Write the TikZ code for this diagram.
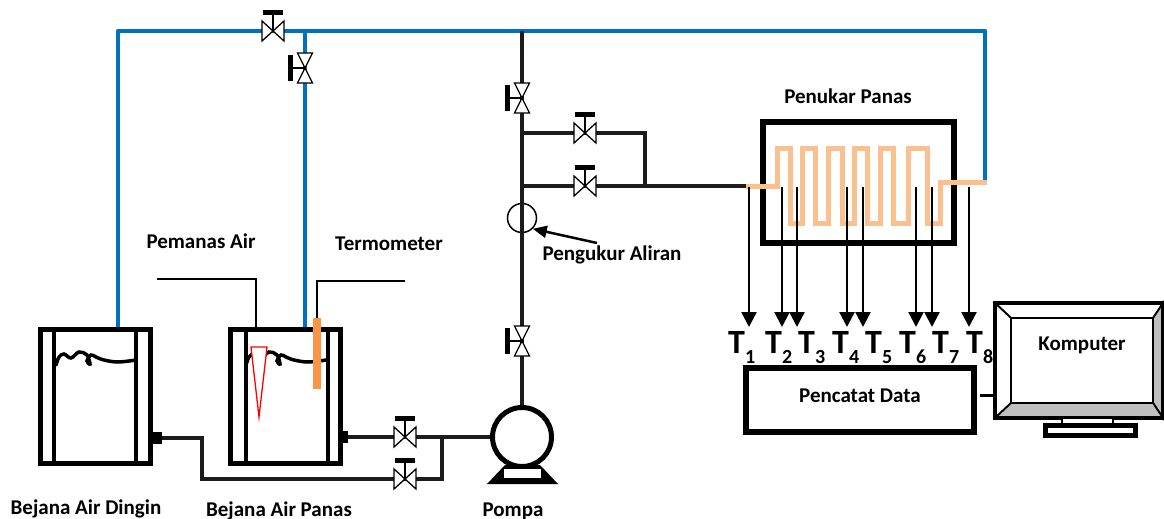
\documentclass[tikz,border=0pt]{standalone}
\usepackage{fontspec}
\setmainfont{Carlito}[BoldFont={Carlito Bold}]
\usetikzlibrary{arrows.meta}
\definecolor{bluepipe}{HTML}{0070C0}
\definecolor{coil}{HTML}{FAC090}
\definecolor{thermo}{HTML}{F79646}
\definecolor{pipecol}{HTML}{1C1C1C}
\definecolor{bevel}{HTML}{BFBFBF}
\newcommand{\tlab}[1]{T\raisebox{-0.32em}{\fontsize{20}{20}\selectfont #1}}
\begin{document}
\begin{tikzpicture}[x=1pt,y=-1pt,
  pipe/.style={line width=4pt,draw=pipecol},
  water/.style={line width=4.2pt,draw=bluepipe},
  vessel/.style={line width=5pt,draw=black},
  wall/.style={line width=3.5pt,draw=black},
  lbl/.style={font=\bfseries\fontsize{21}{21}\selectfont,inner sep=0pt,anchor=base},
  tlbl/.style={font=\bfseries\fontsize{34}{34}\selectfont,inner sep=0pt,anchor=base west},
  leader/.style={line width=1.3pt,draw=black},
  probe/.style={line width=2.4pt,draw=black,-{Triangle[width=15pt,length=15pt]}},
  valvebody/.style={draw=black,fill=white,line width=1.3pt,line join=miter},
  valveh/.pic={
    \path[valvebody] (-11,-10) -- (0,0) -- (-11,10) -- cycle;
    \path[valvebody] (11,-10) -- (0,0) -- (11,10) -- cycle;
    \draw[line width=1.5pt] (0,0) -- (0,-16);
    \fill (-10,-21) rectangle (10,-16);
  },
  valvev/.pic={
    \path[valvebody] (-7.5,-15) -- (0,0) -- (7.5,-15) -- cycle;
    \path[valvebody] (-7.5,15) -- (0,0) -- (7.5,15) -- cycle;
    \draw[line width=1.5pt] (0,0) -- (-12,0);
    \fill (-17,-13) rectangle (-12,13);
  },
  surface/.pic={
    \draw[line width=3.5pt,line cap=round] plot[smooth,tension=0.6] coordinates
      {(18,38) (21,30) (26,27) (33,31) (41,25) (49,28) (52,37) (49,34) (53,28) (58,30) (66,33) (80,35) (98,33)};
  }
]
\useasboundingbox (0,0) rectangle (1164,519);

% ---------- cold water supply (blue) ----------
\draw[water,line join=round] (118,327) -- (118,31) -- (985,31) -- (985,184);
\draw[water] (305,31) -- (305,327);
\pic at (273,31) {valveh};
\pic at (305,68) {valvev};

% ---------- cold water vessel ----------
\draw[vessel] (40,329) rectangle (150,463);
\draw[wall] (54,329) -- (54,463);
\draw[wall] (136,329) -- (136,463);
\pic at (38,327) {surface};
\fill (150,432) rectangle (162,444);

% ---------- hot water vessel ----------
\draw[vessel] (230,329) rectangle (340,463);
\draw[wall] (246,329) -- (246,463);
\draw[wall] (328,329) -- (328,463);
\pic at (228,327) {surface};
\fill (340,431) rectangle (348,443);
% heater element
\draw[red,fill=white,line width=1.3pt] (251,347) -- (267,347) -- (259,417) -- cycle;
% thermometer
\fill[thermo] (313,318) rectangle (321,389);
% leaders
\draw[leader] (157,279) -- (256,279) -- (256,327);
\draw[leader] (405,281) -- (317,281) -- (317,318);

% ---------- suction lines to pump ----------
\draw[pipe] (162,438) -- (202,438) -- (202,479) -- (442,479) -- (442,437);
\draw[pipe] (348,437) -- (492,437);
\pic at (405,437) {valveh};
\pic at (405,479) {valveh};

% ---------- pump ----------
\fill (487,484) -- (558,484) -- (540,465) -- (505,465) -- cycle;
\fill[white] (504,469) rectangle (541,478);
\node[circle,draw=black,fill=white,line width=5pt,minimum size=59pt,inner sep=0pt] (pump) at (522,437) {};

% ---------- riser with flow meter ----------
\draw[pipe] (522,31) -- (pump.north);
\pic at (522,98) {valvev};
\pic at (522,341) {valvev};
\node[circle,draw=black,fill=white,line width=1.5pt,minimum size=29pt,inner sep=0pt] (meter) at (522,218) {};
\draw[pipe] (meter.north) -- (meter.south);

% bypass branches
\draw[pipe] (522,133) -- (645,133) -- (645,186);
\draw[pipe] (522,186) -- (748,186);
\pic at (585,133) {valveh};
\pic at (585,186) {valveh};

% ---------- heat exchanger ----------
\draw[line width=6.5pt] (763,122) rectangle (954,243);
\draw[coil,line width=5pt,line join=miter]
  (746,186) -- (777,186) -- (777,148) -- (790,148) -- (790,223) -- (802,223) -- (802,148)
  -- (815,148) -- (815,223) -- (828,223) -- (828,148) -- (842,148) -- (842,223)
  -- (854,223) -- (854,148) -- (867,148) -- (867,223) -- (880,223) -- (880,148)
  -- (893,148) -- (893,223) -- (908,223) -- (908,148) -- (927,148) -- (927,223)
  -- (940,223) -- (940,182) -- (987,182);

% ---------- thermocouples ----------
\foreach \i/\x in {1/749,2/782,3/797,4/847,5/863,6/916,7/932,8/969}{
  \coordinate (tc\i) at (\x,187);
  \coordinate (te\i) at (\x,327);
  \draw[probe] (tc\i) -- (te\i);
}
\foreach \i/\x in {1/728,2/765,3/798,4/832,5/865,6/899,7/932,8/966}{
  \node[tlbl] (t\i) at (\x,353) {\tlab{\i}};
}

% ---------- data logger ----------
\node[draw=black,line width=6pt,minimum width=228pt,minimum height=64pt,inner sep=0pt] (logger) at (860,400) {};
\node[lbl] (loggertext) at (860,402) {Pencatat Data};

% ---------- computer ----------
\coordinate (mon) at (995,395);
\draw[line width=3pt] (logger.east) ++(3,-5) coordinate (lgout) -- (mon);
\path[draw=black,line width=1.8pt,fill=white] (995,303) -- (1163,303) -- (1153,318) -- (1011,318) -- cycle;
\path[draw=black,line width=1.8pt,fill=white] (995,303) -- (1011,318) -- (1011,403) -- (995,418) -- cycle;
\path[draw=black,line width=1.8pt,fill=bevel] (1163,303) -- (1163,418) -- (1153,403) -- (1153,318) -- cycle;
\path[draw=black,line width=1.8pt,fill=bevel] (995,418) -- (1163,418) -- (1153,403) -- (1011,403) -- cycle;
\draw[line width=3.5pt] (995,303) rectangle (1163,418);
\draw[line width=2.2pt] (1011,318) rectangle (1153,403);
\draw[line width=1.5pt,fill=white] (1062,418) rectangle (1113,424);
\draw[line width=5pt,fill=white] (1045,425) rectangle (1135,435);
\node[lbl] (komp) at (1082,350) {Komputer};

% ---------- labels ----------
\node[lbl] (l1) at (848,103) {Penukar Panas};
\node[lbl] (l2) at (201,248) {Pemanas Air};
\node[lbl] (l3) at (389,250) {Termometer};
\node[lbl] (l4) at (612,260) {Pengukur Aliran};
\node[lbl] (l5) at (86,514) {Bejana Air Dingin};
\node[lbl] (l6) at (279,516) {Bejana Air Panas};
\node[lbl] (l7) at (513,516) {Pompa};
\draw[line width=2.5pt,-{Triangle[width=12pt,length=14pt]}] (597,243) -- (meter.south east);
\end{tikzpicture}
\end{document}
